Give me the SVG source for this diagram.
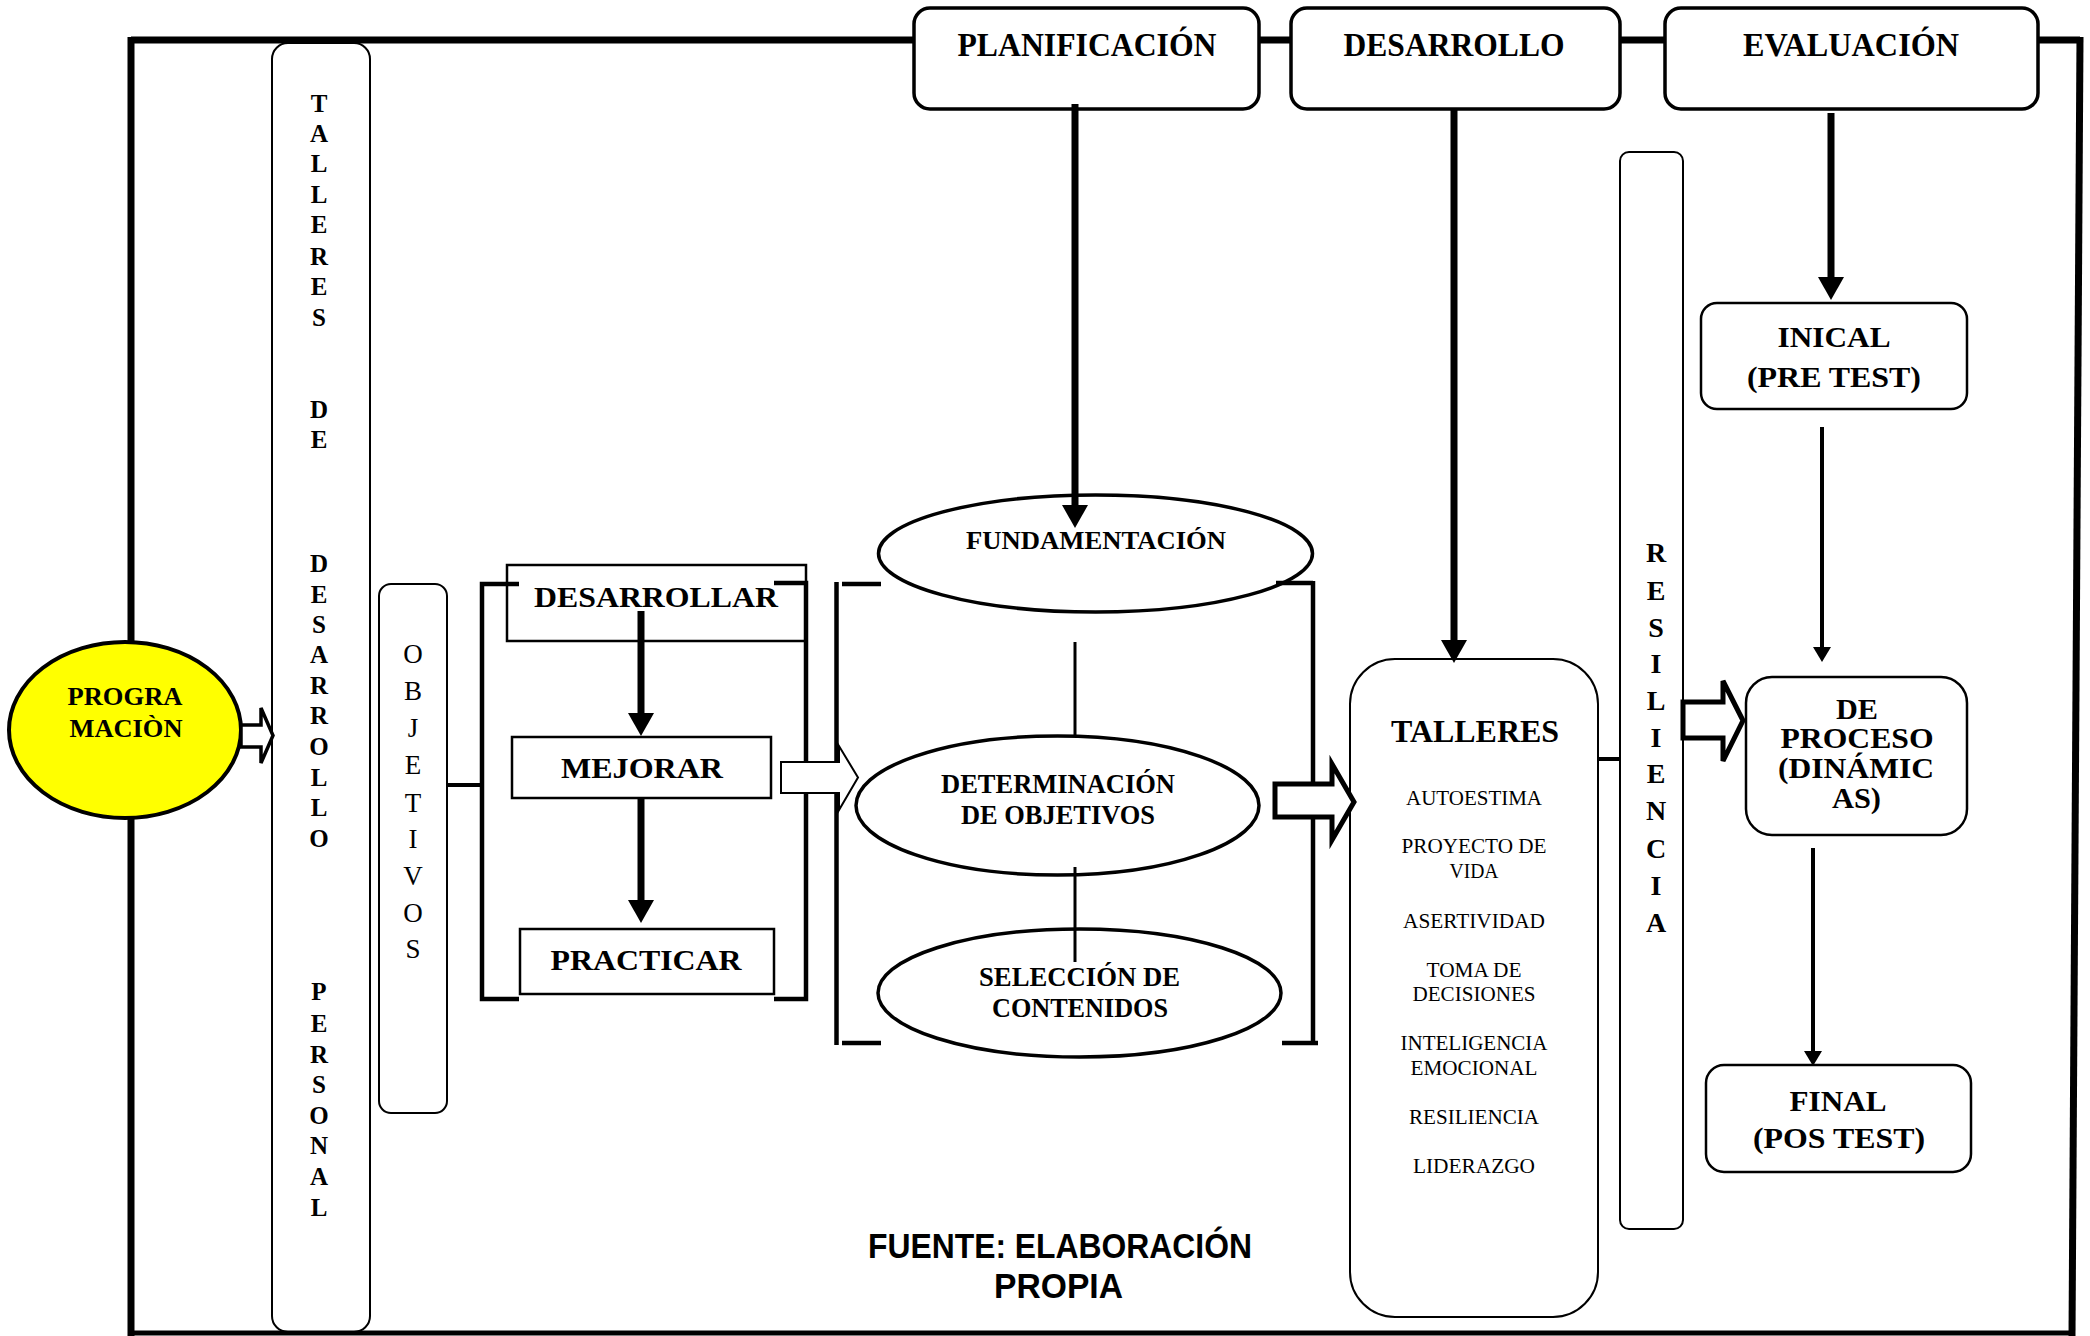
<svg xmlns="http://www.w3.org/2000/svg" width="2090" height="1336" viewBox="0 0 2090 1336">
<style>
  .b { font-family: "Liberation Serif", "Times New Roman", serif; font-weight: bold; fill: #000; text-anchor: middle; }
  .r { font-family: "Liberation Serif", "Times New Roman", serif; font-weight: normal; fill: #000; text-anchor: middle; }
  .s { font-family: "Liberation Sans", Arial, sans-serif; font-weight: bold; fill: #000; text-anchor: middle; }
  .hdr { fill: #fff; stroke: #000; stroke-width: 3.5; }
  .box { fill: #fff; stroke: #000; stroke-width: 2.5; }
  .bar { fill: none; stroke: #000; stroke-width: 2; }
  .ell { fill: #fff; stroke: #000; stroke-width: 3.5; }
  .frame { stroke: #000; stroke-width: 7; fill: none; }
  .brk { stroke: #000; stroke-width: 4.5; fill: none; }
  .thick { stroke: #000; stroke-width: 7; fill: none; }
  .thin { stroke: #000; stroke-width: 4; fill: none; }
  .line3 { stroke: #000; stroke-width: 3; fill: none; }
  .hollow { fill: #fff; stroke: #000; stroke-linejoin: miter; }
</style>
<defs>
  <marker id="headL" markerUnits="userSpaceOnUse" markerWidth="24" markerHeight="26" refX="0" refY="13" orient="auto">
    <path d="M0,0 L23,13 L0,26 Z" fill="#000"/>
  </marker>
  <marker id="headS" markerUnits="userSpaceOnUse" markerWidth="16" markerHeight="18" refX="0" refY="9" orient="auto">
    <path d="M0,0 L15,9 L0,18 Z" fill="#000"/>
  </marker>
</defs>

<g id="frame">
  <line class="frame" x1="131" y1="40" x2="2080" y2="40"/>
  <line class="frame" x1="131" y1="37" x2="131" y2="663"/>
  <line class="frame" x1="131" y1="815" x2="131" y2="1336"/>
  <line class="frame" x1="2080" y1="37" x2="2072" y2="1336"/>
  <line x1="128" y1="1333" x2="2075" y2="1333" stroke="#000" stroke-width="5"/>
</g>

<g id="talleres-desarrollo-personal">
  <rect class="bar" x="272" y="43" width="98" height="1289" rx="16"/>
  <g class="b" font-size="25">
    <text x="319" y="112">T</text><text x="319" y="142">A</text><text x="319" y="172">L</text><text x="319" y="203">L</text>
    <text x="319" y="233">E</text><text x="319" y="265">R</text><text x="319" y="295">E</text><text x="319" y="326">S</text>
    <text x="319" y="418">D</text><text x="319" y="448">E</text>
    <text x="319" y="572">D</text><text x="319" y="603">E</text><text x="319" y="633">S</text><text x="319" y="663">A</text>
    <text x="319" y="694">R</text><text x="319" y="724">R</text><text x="319" y="755">O</text><text x="319" y="786">L</text>
    <text x="319" y="816">L</text><text x="319" y="847">O</text>
    <text x="319" y="1000">P</text><text x="319" y="1032">E</text><text x="319" y="1063">R</text><text x="319" y="1093">S</text>
    <text x="319" y="1124">O</text><text x="319" y="1154">N</text><text x="319" y="1185">A</text><text x="319" y="1216">L</text>
  </g>
</g>

<g id="objetivos">
  <rect class="bar" x="379" y="584" width="68" height="529" rx="12"/>
  <g class="r" font-size="27">
    <text x="413" y="663">O</text><text x="413" y="700">B</text><text x="413" y="737">J</text><text x="413" y="774">E</text>
    <text x="413" y="812">T</text><text x="413" y="848">I</text><text x="413" y="885">V</text><text x="413" y="922">O</text>
    <text x="413" y="958">S</text>
  </g>
</g>

<g id="programacion">
  <ellipse cx="125" cy="730" rx="116" ry="88" fill="#FFFF00" stroke="#000" stroke-width="4"/>
  <text class="b" x="125" y="705" font-size="26" textLength="115" lengthAdjust="spacingAndGlyphs">PROGRA</text>
  <text class="b" x="126" y="737" font-size="26" textLength="113" lengthAdjust="spacingAndGlyphs">MACIÒN</text>
</g>

<g id="planificacion">
  <rect class="hdr" x="914" y="8" width="345" height="101" rx="16"/>
  <text class="b" x="1087" y="56" font-size="33" textLength="259" lengthAdjust="spacingAndGlyphs">PLANIFICACIÓN</text>
</g>
<g id="desarrollo">
  <rect class="hdr" x="1291" y="8" width="329" height="101" rx="16"/>
  <text class="b" x="1454" y="56" font-size="33" textLength="221" lengthAdjust="spacingAndGlyphs">DESARROLLO</text>
</g>
<g id="evaluacion">
  <rect class="hdr" x="1665" y="8" width="373" height="101" rx="16"/>
  <text class="b" x="1851" y="56" font-size="33" textLength="216" lengthAdjust="spacingAndGlyphs">EVALUACIÓN</text>
</g>

<g id="desarrollar">
  <rect class="box" x="507" y="565" width="299" height="76"/>
  <text class="b" x="656" y="607" font-size="30" textLength="244" lengthAdjust="spacingAndGlyphs">DESARROLLAR</text>
</g>
<g id="mejorar">
  <rect class="box" x="512" y="737" width="259" height="61"/>
  <text class="b" x="642" y="778" font-size="30" textLength="162" lengthAdjust="spacingAndGlyphs">MEJORAR</text>
</g>
<g id="practicar">
  <rect class="box" x="520" y="929" width="254" height="65"/>
  <text class="b" x="646" y="970" font-size="30" textLength="191" lengthAdjust="spacingAndGlyphs">PRACTICAR</text>
</g>

<g id="fundamentacion">
  <ellipse class="ell" cx="1095.5" cy="553.5" rx="217" ry="58.5"/>
  <text class="b" x="1096" y="549" font-size="26" textLength="260" lengthAdjust="spacingAndGlyphs">FUNDAMENTACIÓN</text>
</g>
<g id="determinacion">
  <ellipse class="ell" cx="1057.5" cy="805.5" rx="201.5" ry="69.5"/>
  <text class="b" x="1058" y="793" font-size="27" textLength="234" lengthAdjust="spacingAndGlyphs">DETERMINACIÓN</text>
  <text class="b" x="1058" y="824" font-size="27" textLength="194" lengthAdjust="spacingAndGlyphs">DE OBJETIVOS</text>
</g>
<g id="seleccion">
  <ellipse class="ell" cx="1079.5" cy="993" rx="201.5" ry="64"/>
  <text class="b" x="1079.5" y="986" font-size="27" textLength="201" lengthAdjust="spacingAndGlyphs">SELECCIÓN DE</text>
  <text class="b" x="1080" y="1017" font-size="27" textLength="176" lengthAdjust="spacingAndGlyphs">CONTENIDOS</text>
</g>

<g id="talleres">
  <rect x="1350" y="659" width="248" height="658" rx="45" fill="#fff" stroke="#000" stroke-width="2"/>
  <text class="b" x="1475" y="742" font-size="31" textLength="168" lengthAdjust="spacingAndGlyphs">TALLERES</text>
  <g class="r" font-size="21">
    <text x="1474" y="805" textLength="136" lengthAdjust="spacingAndGlyphs">AUTOESTIMA</text>
    <text x="1474" y="853" textLength="145" lengthAdjust="spacingAndGlyphs">PROYECTO DE</text>
    <text x="1474" y="878" textLength="49" lengthAdjust="spacingAndGlyphs">VIDA</text>
    <text x="1474" y="928" textLength="142" lengthAdjust="spacingAndGlyphs">ASERTIVIDAD</text>
    <text x="1474" y="977" textLength="95" lengthAdjust="spacingAndGlyphs">TOMA DE</text>
    <text x="1474" y="1001" textLength="123" lengthAdjust="spacingAndGlyphs">DECISIONES</text>
    <text x="1474" y="1050" textLength="147" lengthAdjust="spacingAndGlyphs">INTELIGENCIA</text>
    <text x="1474" y="1075" textLength="127" lengthAdjust="spacingAndGlyphs">EMOCIONAL</text>
    <text x="1474" y="1124" textLength="130" lengthAdjust="spacingAndGlyphs">RESILIENCIA</text>
    <text x="1474" y="1173" textLength="122" lengthAdjust="spacingAndGlyphs">LIDERAZGO</text>
  </g>
</g>

<g id="resiliencia">
  <rect class="bar" x="1620" y="152" width="63" height="1077" rx="9"/>
  <g class="b" font-size="28">
    <text x="1656" y="562">R</text><text x="1656" y="600">E</text><text x="1656" y="637">S</text><text x="1656" y="673">I</text>
    <text x="1656" y="710">L</text><text x="1656" y="747">I</text><text x="1656" y="783">E</text><text x="1656" y="820">N</text>
    <text x="1656" y="858">C</text><text x="1656" y="895">I</text><text x="1656" y="932">A</text>
  </g>
</g>

<g id="inicial">
  <rect class="box" x="1701" y="303" width="266" height="106" rx="16" stroke-width="2"/>
  <text class="b" x="1834" y="347" font-size="30" textLength="113" lengthAdjust="spacingAndGlyphs">INICAL</text>
  <text class="b" x="1834" y="387" font-size="30" textLength="174" lengthAdjust="spacingAndGlyphs">(PRE TEST)</text>
</g>
<g id="de-proceso">
  <rect class="box" x="1746" y="677" width="221" height="158" rx="26" stroke-width="2"/>
  <text class="b" x="1857" y="719" font-size="29" textLength="42" lengthAdjust="spacingAndGlyphs">DE</text>
  <text class="b" x="1857" y="748" font-size="29" textLength="153" lengthAdjust="spacingAndGlyphs">PROCESO</text>
  <text class="b" x="1856" y="778" font-size="29" textLength="156" lengthAdjust="spacingAndGlyphs">(DINÁMIC</text>
  <text class="b" x="1856.5" y="808" font-size="29" textLength="49" lengthAdjust="spacingAndGlyphs">AS)</text>
</g>
<g id="final">
  <rect class="box" x="1706" y="1065" width="265" height="107" rx="18" stroke-width="2.5"/>
  <text class="b" x="1838" y="1111" font-size="30" textLength="97" lengthAdjust="spacingAndGlyphs">FINAL</text>
  <text class="b" x="1839" y="1148" font-size="30" textLength="172" lengthAdjust="spacingAndGlyphs">(POS TEST)</text>
</g>

<g id="fuente">
  <text class="s" x="1060" y="1258" font-size="35" textLength="384" lengthAdjust="spacingAndGlyphs">FUENTE: ELABORACIÓN</text>
  <text class="s" x="1058.5" y="1298" font-size="35" textLength="129" lengthAdjust="spacingAndGlyphs">PROPIA</text>
</g>

<g id="connectors">
  <!-- brackets -->
  <path class="brk" d="M519 584 H482 V999 H519"/>
  <path class="brk" d="M774 583 H806 V999 H774"/>
  <line class="brk" x1="836.5" y1="582" x2="836.5" y2="1045"/>
  <line class="brk" x1="842" y1="584" x2="881" y2="584" stroke-width="5"/>
  <line class="brk" x1="842" y1="1043" x2="881" y2="1043" stroke-width="5"/>
  <line class="brk" x1="1313" y1="581" x2="1313" y2="1045"/>
  <line class="brk" x1="1276" y1="583" x2="1313" y2="583" stroke-width="5"/>
  <line class="brk" x1="1282" y1="1043" x2="1318" y2="1043" stroke-width="5"/>
  <!-- plain links -->
  <line class="thin" x1="446" y1="785" x2="482" y2="785" stroke-width="5"/>
  <line class="thin" x1="1598" y1="759" x2="1620" y2="759" stroke-width="5"/>
  <line class="line3" x1="1075" y1="642" x2="1075" y2="736"/>
  <line class="line3" x1="1075" y1="867" x2="1075" y2="962"/>
  <!-- filled-head arrows -->
  <line class="thick" x1="1075" y1="104" x2="1075" y2="505" marker-end="url(#headL)"/>
  <line class="thick" x1="1454" y1="110" x2="1454" y2="640" marker-end="url(#headL)"/>
  <line class="thick" x1="1831" y1="113" x2="1831" y2="277" marker-end="url(#headL)"/>
  <line class="thick" x1="641" y1="611" x2="641" y2="713" marker-end="url(#headL)"/>
  <line class="thick" x1="641" y1="798" x2="641" y2="900" marker-end="url(#headL)"/>
  <line class="thin" x1="1822" y1="427" x2="1822" y2="647" stroke-width="4.5" marker-end="url(#headS)"/>
  <line class="thin" x1="1813" y1="848" x2="1813" y2="1051" stroke-width="4.5" marker-end="url(#headS)"/>
  <!-- hollow block arrows -->
  <path class="hollow" stroke-width="3.5" d="M241 725 H261 V708 L273 735.5 L261 763 V747 H241 Z"/>
  <path class="hollow" stroke-width="2" d="M781 762 H839 V746 L858 777.5 L839 810 V793 H781 Z"/>
  <path class="hollow" stroke-width="5" d="M1275 784 H1332 V764 L1354 802 L1332 840 V817 H1275 Z"/>
  <path class="hollow" stroke-width="5" d="M1683 702 H1723 V681 L1743 720.5 L1723 761 V738 H1683 Z"/>
</g>
</svg>
